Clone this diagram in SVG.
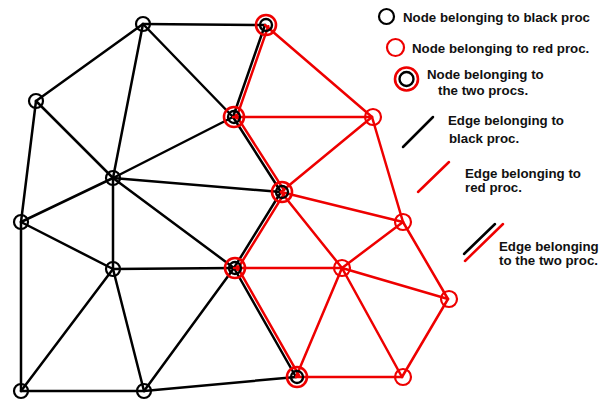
<svg xmlns="http://www.w3.org/2000/svg" width="613" height="400" viewBox="0 0 613 400">
<style>
.bk{stroke:#000;stroke-width:2.5;fill:none;stroke-linecap:round}
.rd{stroke:#e00;stroke-width:2.5;fill:none;stroke-linecap:round}
.nb{stroke:#000;stroke-width:2.2;fill:none}
.nr{stroke:#e00;stroke-width:2.2;fill:none}
.ns{stroke:#e00;stroke-width:2.6;fill:none}
.ni{stroke:#000;stroke-width:2.4;fill:none}
text{font-family:"Liberation Sans",Arial,sans-serif;font-weight:bold;font-size:13.3px;fill:#111}
</style>
<rect width="613" height="400" fill="#fff"/>
<g id="connectors">
<g id="black-edges">
<line class="bk" x1="143" y1="24" x2="265" y2="25"/>
<line class="bk" x1="143" y1="24" x2="36" y2="101"/>
<line class="bk" x1="143" y1="24" x2="113" y2="178"/>
<line class="bk" x1="143" y1="24" x2="233" y2="117"/>
<line class="bk" x1="36" y1="101" x2="21" y2="222"/>
<line class="bk" x1="36" y1="101" x2="113" y2="178"/>
<line class="bk" x1="113" y1="178" x2="21" y2="222"/>
<line class="bk" x1="113" y1="178" x2="233" y2="117"/>
<line class="bk" x1="113" y1="178" x2="281" y2="192"/>
<line class="bk" x1="113" y1="178" x2="234" y2="268"/>
<line class="bk" x1="113" y1="178" x2="113" y2="269"/>
<line class="bk" x1="21" y1="222" x2="113" y2="269"/>
<line class="bk" x1="21" y1="222" x2="21" y2="391"/>
<line class="bk" x1="113" y1="269" x2="234" y2="268"/>
<line class="bk" x1="113" y1="269" x2="21" y2="391"/>
<line class="bk" x1="113" y1="269" x2="144" y2="391"/>
<line class="bk" x1="21" y1="391" x2="144" y2="391"/>
<line class="bk" x1="144" y1="391" x2="234" y2="268"/>
<line class="bk" x1="144" y1="391" x2="296" y2="377"/>
<line class="bk" x1="265" y1="25" x2="233" y2="117"/>
<line class="bk" x1="233" y1="117" x2="281" y2="192"/>
<line class="bk" x1="281" y1="192" x2="234" y2="268"/>
<line class="bk" x1="234" y1="268" x2="296" y2="377"/>
</g>
<g id="red-edges">
<line class="rd" x1="268.3" y1="26.2" x2="236.3" y2="118.2"/>
<line class="rd" x1="236" y1="115.1" x2="284" y2="190.1"/>
<line class="rd" x1="284" y1="193.8" x2="237" y2="269.8"/>
<line class="rd" x1="237" y1="266.3" x2="299" y2="375.3"/>
<line class="rd" x1="265" y1="25" x2="372" y2="117"/>
<line class="rd" x1="233" y1="117" x2="372" y2="117"/>
<line class="rd" x1="281" y1="192" x2="372" y2="117"/>
<line class="rd" x1="281" y1="192" x2="403" y2="222"/>
<line class="rd" x1="281" y1="192" x2="342" y2="268"/>
<line class="rd" x1="234" y1="268" x2="342" y2="268"/>
<line class="rd" x1="296" y1="377" x2="342" y2="268"/>
<line class="rd" x1="296" y1="377" x2="402" y2="377"/>
<line class="rd" x1="372" y1="117" x2="403" y2="222"/>
<line class="rd" x1="342" y1="268" x2="403" y2="222"/>
<line class="rd" x1="342" y1="268" x2="448" y2="299"/>
<line class="rd" x1="342" y1="268" x2="402" y2="377"/>
<line class="rd" x1="403" y1="222" x2="448" y2="299"/>
<line class="rd" x1="448" y1="299" x2="402" y2="377"/>
</g>
</g>
<g id="node-A"><circle class="nb" cx="143" cy="24" r="7"/></g>
<g id="node-B"><circle class="nb" cx="36" cy="101" r="7"/></g>
<g id="node-C"><circle class="nb" cx="113" cy="178" r="7"/></g>
<g id="node-D"><circle class="nb" cx="21" cy="222" r="7"/></g>
<g id="node-E"><circle class="nb" cx="113" cy="269" r="7"/></g>
<g id="node-F"><circle class="nb" cx="21" cy="391" r="7"/></g>
<g id="node-G"><circle class="nb" cx="144" cy="391" r="7"/></g>
<g id="node-H"><circle class="ns" cx="266" cy="25" r="10"/><circle class="ni" cx="266" cy="25" r="6"/></g>
<g id="node-I"><circle class="ns" cx="234" cy="117" r="10"/><circle class="ni" cx="234" cy="117" r="6"/></g>
<g id="node-J"><circle class="ns" cx="282" cy="192" r="10"/><circle class="ni" cx="282" cy="192" r="6"/></g>
<g id="node-K"><circle class="ns" cx="235" cy="268" r="10"/><circle class="ni" cx="235" cy="268" r="6"/></g>
<g id="node-L"><circle class="ns" cx="297" cy="377" r="10"/><circle class="ni" cx="297" cy="377" r="6"/></g>
<g id="node-M"><circle class="nr" cx="373" cy="117" r="8"/></g>
<g id="node-N"><circle class="nr" cx="403" cy="222" r="8"/></g>
<g id="node-O"><circle class="nr" cx="342" cy="268" r="8"/></g>
<g id="node-P"><circle class="nr" cx="449" cy="299" r="8"/></g>
<g id="node-Q"><circle class="nr" cx="403" cy="377" r="8"/></g>
<g id="legend">
<circle class="nb" cx="386.5" cy="16.5" r="7.5"/>
<text x="403" y="22">Node belonging to black proc</text>
<circle class="nr" cx="395.5" cy="47.5" r="8.5"/>
<text x="412" y="53">Node belonging to red proc.</text>
<circle class="ns" cx="406.5" cy="79" r="11.5"/>
<circle class="ni" cx="406.5" cy="79" r="7"/>
<text x="427" y="79">Node belonging to</text>
<text x="438" y="95">the two procs.</text>
<line class="bk" x1="403" y1="147" x2="433" y2="117"/>
<text x="448" y="125">Edge belonging to</text>
<text x="449" y="143">black proc.</text>
<line class="rd" x1="418" y1="192" x2="449" y2="162"/>
<text x="465" y="178">Edge belonging to</text>
<text x="465" y="192">red proc.</text>
<line class="bk" x1="464" y1="254" x2="495" y2="224"/>
<line class="rd" x1="465" y1="261" x2="503" y2="224"/>
<text x="499" y="251">Edge belonging</text>
<text x="499" y="265">to the two proc.</text>
</g>
</svg>
